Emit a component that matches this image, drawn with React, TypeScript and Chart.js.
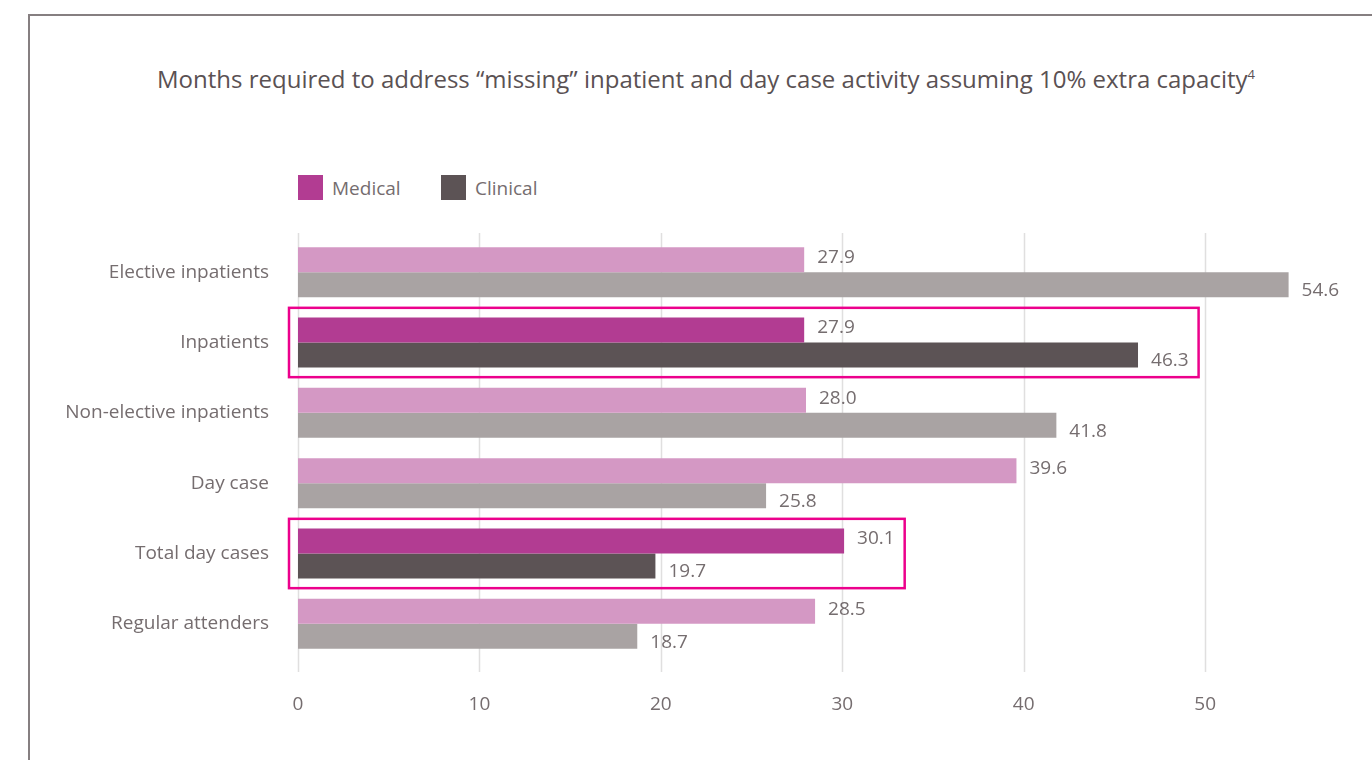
import React, { useEffect, useRef } from "react";
import { Chart, registerables } from "chart.js";

Chart.register(...registerables);

// Categories and series values (months)
const categories = [
  "Elective inpatients",
  "Inpatients",
  "Non-elective inpatients",
  "Day case",
  "Total day cases",
  "Regular attenders",
];
const medicalValues = [27.9, 27.9, 28.0, 39.6, 30.1, 28.5];
const clinicalValues = [54.6, 46.3, 41.8, 25.8, 19.7, 18.7];
const highlighted = [false, true, false, false, true, false];
const xTickValues = [0, 10, 20, 30, 40, 50];

const MEDICAL = "#b23c92";
const MEDICAL_SOFT = "#d498c4";
const CLINICAL = "#5c5355";
const CLINICAL_SOFT = "#a9a3a3";
const BOX = "#ec008c";
const GRID = "#e0dfdf";
const TEXT = "#756d6f";
const TITLE = "#5a5153";
const FONT = "'Open Sans', sans-serif";

const TITLE_TEXT =
  "Months required to address \u201cmissing\u201d inpatient and day case activity assuming 10% extra capacity";

// Vertical grid lines that reach a little past the plot band
const gridPlugin = {
  id: "extendedGrid",
  beforeDatasetsDraw(chart: any) {
    const { ctx, chartArea, scales } = chart;
    const x = scales.x;
    ctx.save();
    ctx.strokeStyle = GRID;
    ctx.lineWidth = 1.5;
    xTickValues.forEach((v) => {
      const px = Math.round(x.getPixelForValue(v)) + 0.5;
      ctx.beginPath();
      ctx.moveTo(px, chartArea.top - 4);
      ctx.lineTo(px, chartArea.bottom + 13);
      ctx.stroke();
    });
    ctx.restore();
  },
};

// Value labels beside each bar, plus outlines around highlighted rows
const labelPlugin = {
  id: "valueLabels",
  afterDatasetsDraw(chart: any) {
    const { ctx, chartArea, scales } = chart;
    ctx.save();
    ctx.font = `19px ${FONT}`;
    ctx.fillStyle = TEXT;
    ctx.textAlign = "left";
    ctx.textBaseline = "middle";
    const labelEnds: number[] = categories.map(() => 0);
    chart.data.datasets.forEach((ds: any, di: number) => {
      const meta = chart.getDatasetMeta(di);
      meta.data.forEach((el: any, i: number) => {
        const text = Number(ds.data[i]).toFixed(1);
        const tx = el.x + 13;
        const ty = el.y + (di === 0 ? -2 : 6);
        ctx.fillText(text, tx, ty);
        labelEnds[i] = Math.max(labelEnds[i], tx + ctx.measureText(text).width);
      });
    });
    const band = chartArea.height / categories.length;
    ctx.strokeStyle = BOX;
    ctx.lineWidth = 2.5;
    highlighted.forEach((h, i) => {
      if (!h) return;
      const cy = scales.y.getPixelForValue(i);
      const left = chartArea.left - 9;
      const right = labelEnds[i] + 10;
      ctx.strokeRect(left, cy - band / 2 + 0.5, right - left, band - 1);
    });
    ctx.restore();
  },
};

export default function App() {
  const canvasRef = useRef<HTMLCanvasElement | null>(null);

  useEffect(() => {
    if (!canvasRef.current) return;
    const chart = new Chart(canvasRef.current, {
      type: "bar",
      data: {
        labels: categories,
        datasets: [
          {
            label: "Medical",
            data: medicalValues,
            backgroundColor: highlighted.map((h) => (h ? MEDICAL : MEDICAL_SOFT)),
            borderWidth: 0,
            categoryPercentage: 0.712,
            barPercentage: 1,
          },
          {
            label: "Clinical",
            data: clinicalValues,
            backgroundColor: highlighted.map((h) => (h ? CLINICAL : CLINICAL_SOFT)),
            borderWidth: 0,
            categoryPercentage: 0.712,
            barPercentage: 1,
          },
        ],
      },
      options: {
        indexAxis: "y",
        animation: false,
        responsive: false,
        maintainAspectRatio: false,
        layout: { padding: { top: 237, bottom: 21, left: 0, right: 58 } },
        plugins: {
          legend: { display: false },
          tooltip: { enabled: false },
          title: { display: false },
        },
        scales: {
          x: {
            type: "linear",
            min: 0,
            max: 56,
            grid: { display: false, drawTicks: false },
            border: { display: false },
            ticks: {
              stepSize: 10,
              includeBounds: false,
              padding: 34,
              color: TEXT,
              font: { family: FONT, size: 19 },
            },
            afterFit(scale: any) {
              scale.height = 80;
            },
          },
          y: {
            type: "category",
            grid: { display: false, drawTicks: false },
            border: { display: false },
            ticks: {
              padding: 29,
              color: TEXT,
              font: { family: FONT, size: 19 },
            },
            afterFit(scale: any) {
              scale.width = 298;
            },
          },
        },
      },
      plugins: [gridPlugin, labelPlugin],
    } as any);
    return () => chart.destroy();
  }, []);

  const legendItems = [
    { label: "Medical", color: MEDICAL, left: 298 },
    { label: "Clinical", color: CLINICAL, left: 441 },
  ];

  return (
    <div
      style={{
        position: "fixed",
        left: 0,
        top: 0,
        width: 1372,
        height: 760,
        overflow: "hidden",
        background: "#ffffff",
        fontFamily: FONT,
      }}
    >
      <div
        style={{
          position: "absolute",
          left: 28,
          top: 14,
          width: 1400,
          height: 800,
          border: "2px solid #867f81",
        }}
      />
      <div
        style={{
          position: "absolute",
          left: 28,
          width: 1356,
          top: 62,
          textAlign: "center",
          fontSize: 24,
          lineHeight: "34px",
          color: TITLE,
          whiteSpace: "nowrap",
        }}
      >
        {TITLE_TEXT}
        <sup style={{ fontSize: 13, verticalAlign: "top", lineHeight: "24px" }}>4</sup>
      </div>
      {legendItems.map((it) => (
        <div
          key={it.label}
          style={{
            position: "absolute",
            left: it.left,
            top: 175,
            height: 25,
            display: "flex",
            alignItems: "center",
            whiteSpace: "nowrap",
          }}
        >
          <span style={{ width: 25, height: 25, background: it.color, display: "inline-block" }} />
          <span style={{ marginLeft: 9, fontSize: 19, color: TEXT }}>{it.label}</span>
        </div>
      ))}
      <canvas
        ref={canvasRef}
        width={1372}
        height={760}
        style={{ position: "absolute", left: 0, top: 0, width: 1372, height: 760 }}
      />
    </div>
  );
}
